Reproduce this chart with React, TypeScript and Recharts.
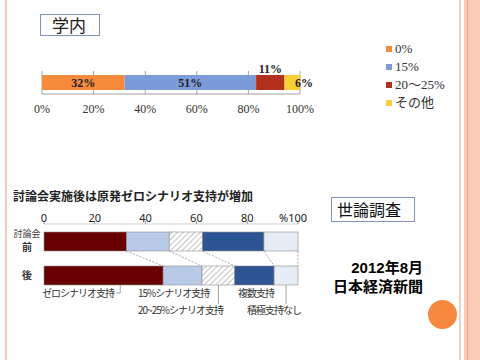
import { BarChart, Bar, XAxis, YAxis, CartesianGrid, LabelList, Legend } from 'recharts'

// 学内 survey (top chart)
const campusSeries = ['0%', '15%', '20～25%', 'その他']
const campusValues = [32, 51, 11, 6]
const campusColors = ['#f68b3c', '#7b9cd9', '#b2301c', '#f8cf35']
const campusTicks = [0, 20, 40, 60, 80, 100]

// 世論調査 (bottom chart)
const pollRows = ['討論会前', '後']
const pollSeries = ['ゼロシナリオ支持', '15%シナリオ支持', '20~25%シナリオ支持', '複数支持', '積極支持なし']
const pollBefore = [32.5, 16.8, 13.1, 24.2, 13.4]
const pollAfter = [46.9, 15.3, 12.9, 15.5, 9.4]
const pollTicks = [0, 20, 40, 60, 80, 100]
const pollFills = ['#680000', '#b9cae8', 'url(#hatch)', '#2d5594', '#e6edf6']

const SERIF = '"Liberation Serif", "DejaVu Serif", "Noto Sans CJK JP", serif'
const SANS = '"Noto Sans", "Noto Sans CJK JP", sans-serif'
const JP = '"Noto Sans CJK JP", sans-serif'
const HEAVY = '"Liberation Sans", "Noto Sans CJK JP", sans-serif'

const campusData = [
    campusValues.reduce((row: any, v, i) => ({ ...row, ['s' + i]: v }), { name: '学内' }),
]
const pollValues = [pollBefore, pollAfter]
const pollData = pollRows.map((name, r) =>
    pollValues[r].reduce((row: any, v, i) => ({ ...row, ['s' + i]: v }), { name })
)

const POLL_W = 320
const POLL_H = 120
const POLL_M = { top: 4, right: 22, bottom: 28, left: 10 }
const POLL_AXIS_H = 20
const POLL_BAR = 19
const POLL_BAND = (POLL_H - POLL_M.top - POLL_M.bottom - POLL_AXIS_H) / pollRows.length
const POLL_GAP = POLL_BAND - POLL_BAR

const sum = (arr: number[], n: number) => arr.slice(0, n).reduce((a, b) => a + b, 0)

// segment with dotted connectors (row 0 -> row 1) and leader lines under the last row
function pollShape(k: number) {
    return (props: any) => {
        const { x, y, width, height, fill, payload } = props
        const row = pollRows.indexOf(payload.name)
        const parts = [
            <rect key="r" x={x} y={y} width={width} height={height} fill={fill} stroke="#8c8c8c" strokeWidth={0.6} />,
        ]
        const vals = pollValues[row]
        if (row >= 0 && row < pollRows.length - 1 && vals[k] > 0) {
            const unit = width / vals[k]
            const origin = x - sum(vals, k) * unit
            const x2 = origin + sum(pollValues[row + 1], k + 1) * unit
            parts.push(
                <line key="c" x1={x + width} y1={y + height} x2={x2} y2={y + height + POLL_GAP}
                    stroke="#9a9a9a" strokeWidth={0.8} strokeDasharray="2 1.5" />
            )
        }
        if (row === pollRows.length - 1) {
            const b = y + height
            if (k === 0) {
                const lx = x + width * 0.64
                parts.push(<path key="l" d={`M${lx},${b} L${lx},${b + 8} L${lx - 4},${b + 8}`} fill="none" stroke="#8c8c8c" strokeWidth={0.8} />)
            }
            if (k === 2 || k === 4) {
                const lx = x + width / 2
                parts.push(<line key="l" x1={lx} y1={b} x2={lx} y2={b + 19} stroke="#8c8c8c" strokeWidth={0.8} />)
            }
        }
        return <g>{parts}</g>
    }
}

const PollTick = ({ x, y, payload }: any) => (
    <text x={payload.value === 100 ? x - 5 : x} y={y + 1} textAnchor="middle" fontSize={11} fill="#222" fontFamily={SANS}>
        {payload.value === 100 ? '%100' : payload.value}
    </text>
)

const RowTick = ({ x, y, payload }: any) => {
    const v: string = payload.value
    if (v.length > 1) {
        return (
            <g fontFamily={JP} fill="#333" textAnchor="middle">
                <text x={x} y={y - 4} fontSize={9}>{v.slice(0, -1)}</text>
                <text x={x} y={y + 10} fontSize={10} fontWeight="bold">{v.slice(-1)}</text>
            </g>
        )
    }
    return <text x={x} y={y + 4} fontSize={10} fontWeight="bold" fill="#333" textAnchor="middle" fontFamily={JP}>{v}</text>
}

const CampusLegend = ({ payload }: any) => {
    const items = [...(payload || [])].sort(
        (a: any, b: any) => campusSeries.indexOf(a.value) - campusSeries.indexOf(b.value)
    )
    return (
        <div>
            {items.map((it: any) => (
                <div key={it.value} style={{ height: 18, lineHeight: '18px', display: 'flex', alignItems: 'center', fontFamily: SERIF, fontSize: 13, color: '#333' }}>
                    <span style={{ width: 6, height: 6, background: it.color, marginRight: 3, display: 'inline-block' }} />
                    <span style={{ fontFamily: SERIF }}>{it.value}</span>
                </div>
            ))}
        </div>
    )
}

const note = (text: string, left: number, cy: number) => (
    <div style={{ position: 'absolute', left, top: cy - 7, height: 14, lineHeight: '14px', fontSize: 10, letterSpacing: -1, color: '#333', fontFamily: JP, whiteSpace: 'nowrap' }}>
        {text}
    </div>
)

export default function App() {
    return (
        <div style={{ position: 'absolute', left: 0, top: 0, width: 480, height: 360, background: '#fff', overflow: 'hidden', fontFamily: JP }}>
            {/* slide frame */}
            <div style={{ position: 'absolute', left: 5, top: 0, width: 2, height: 360, background: '#f5c9b9' }} />
            <div style={{ position: 'absolute', left: 459, top: 0, width: 2, height: 360, background: '#f3cfc0' }} />
            <div style={{ position: 'absolute', left: 464, top: 0, width: 16, height: 360, background: '#fbcbb5' }} />
            <div style={{ position: 'absolute', left: 467, top: 0, width: 1, height: 360, background: '#f0a37c' }} />

            <div style={{ position: 'absolute', left: 40, top: 14, width: 60, height: 22, boxSizing: 'border-box', border: '1px solid #7f93bd', fontSize: 17, lineHeight: '20px', paddingLeft: 11, color: '#222' }}>
                学内
            </div>

            <div style={{ position: 'absolute', left: 0, top: 40 }}>
                <BarChart width={460} height={85} data={campusData} layout="vertical" margin={{ top: 31, right: 160, bottom: 6, left: 42 }}>
                    <CartesianGrid horizontal={false} stroke="#a6a6a6" />
                    <XAxis type="number" domain={[0, 100]} ticks={campusTicks} tickFormatter={(v) => v + '%'} height={25}
                        axisLine={{ stroke: '#a0a0a0' }} tickLine={false} tickSize={0} tickMargin={10}
                        tick={{ fontSize: 12, fill: '#333', fontFamily: SERIF }} />
                    <YAxis type="category" dataKey="name" hide />
                    <Legend layout="vertical" align="center" verticalAlign="middle" content={CampusLegend}
                        wrapperStyle={{ left: 386, top: 0, width: 80, height: 'auto' }} />
                    {campusSeries.map((name, i) => (
                        <Bar key={name} dataKey={'s' + i} name={name} stackId="a" fill={campusColors[i]} barSize={15} isAnimationActive={false}>
                            <LabelList dataKey={'s' + i} formatter={(v: any) => v + '%'}
                                position={i === 2 ? 'top' : i === 3 ? 'right' : 'center'}
                                offset={i === 2 ? 2 : i === 3 ? -5 : 5}
                                style={{ fontSize: 12, fontWeight: 'bold', fill: '#222', fontFamily: SERIF }} />
                        </Bar>
                    ))}
                </BarChart>
            </div>

            <div style={{ position: 'absolute', left: 13, top: 188, fontSize: 12, lineHeight: '16px', fontWeight: 'bold', color: '#222', whiteSpace: 'nowrap' }}>
                討論会実施後は原発ゼロシナリオ支持が増加
            </div>

            <div style={{ position: 'absolute', left: 0, top: 200 }}>
                <BarChart width={POLL_W} height={POLL_H} data={pollData} layout="vertical" margin={POLL_M} barSize={POLL_BAR}>
                    <defs>
                        <pattern id="hatch" width="4" height="4" patternUnits="userSpaceOnUse" patternTransform="rotate(45)">
                            <rect width="4" height="4" fill="#fff" />
                            <line x1="0" y1="0" x2="0" y2="4" stroke="#9a9a9a" strokeWidth="1.2" />
                        </pattern>
                    </defs>
                    <XAxis type="number" orientation="top" domain={[0, 100]} ticks={pollTicks} height={POLL_AXIS_H}
                        axisLine={{ stroke: '#cfcfcf' }} tickLine={{ stroke: '#999' }} tickSize={3} tickMargin={0} tick={PollTick} />
                    <YAxis type="category" dataKey="name" width={34} axisLine={false} tickLine={false} tickSize={0} tickMargin={17} tick={RowTick} />
                    {pollSeries.map((name, i) => (
                        <Bar key={name} dataKey={'s' + i} name={name} stackId="p" fill={pollFills[i]} isAnimationActive={false} shape={pollShape(i)} />
                    ))}
                </BarChart>
            </div>

            {note(pollSeries[0], 42, 293)}
            {note(pollSeries[1], 138, 293)}
            {note(pollSeries[3], 238, 293)}
            {note(pollSeries[2], 138, 310)}
            {note(pollSeries[4], 247, 310)}

            <div style={{ position: 'absolute', left: 331, top: 197, width: 84, height: 25, boxSizing: 'border-box', border: '1px solid #7f93bd', fontSize: 16, lineHeight: '23px', paddingLeft: 5, color: '#111' }}>
                世論調査
            </div>
            <div style={{ position: 'absolute', right: 480 - 423, top: 258, textAlign: 'right', fontFamily: HEAVY, fontWeight: 'bold', fontSize: 15, lineHeight: '19px', color: '#000' }}>
                <div>2012年8月</div>
                <div>日本経済新聞</div>
            </div>
            <div style={{ position: 'absolute', left: 428, top: 300, width: 29, height: 29, borderRadius: '50%', background: '#f7883d' }} />
        </div>
    )
}
